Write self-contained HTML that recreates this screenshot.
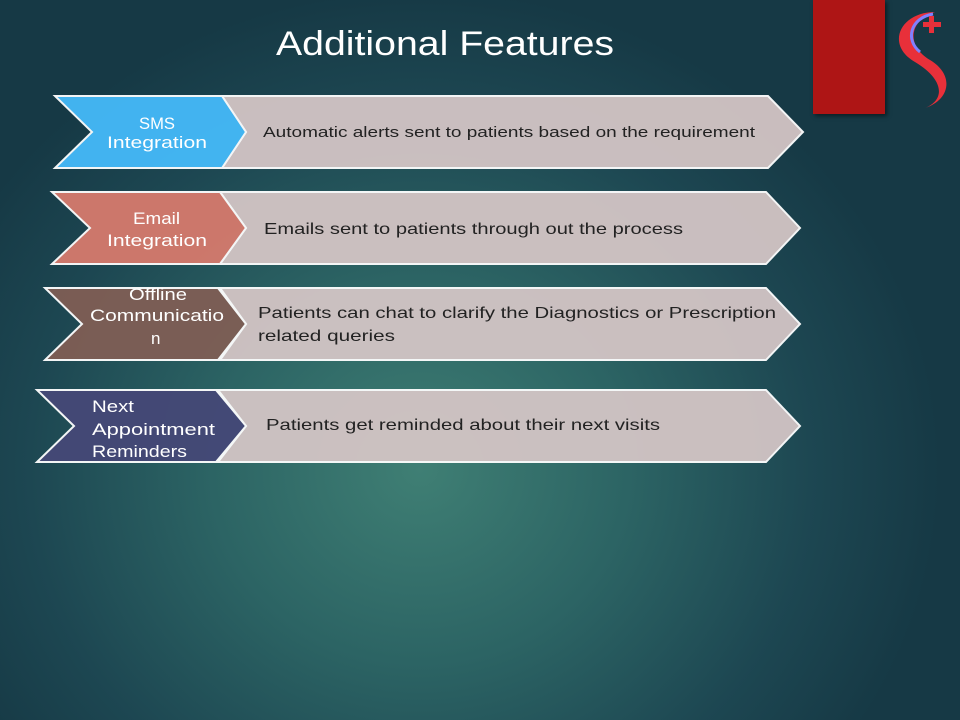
<!DOCTYPE html>
<html><head><style>
body{margin:0;width:960px;height:720px;overflow:hidden;font-family:"Liberation Sans",sans-serif;}
.bg{position:absolute;inset:0;background:radial-gradient(ellipse 520px 480px at 420px 470px,#3f7f74 0%,#2c6464 40%,#1d4752 75%,#163945 100%);}
</style></head><body>
<div class="bg"></div>
<div style="position:absolute;left:813px;top:0;width:72px;height:114px;background:#ae1515;box-shadow:2px 2px 4px rgba(0,0,0,.5)"></div>
<svg width="960" height="720" style="position:absolute;left:0;top:0">
<g font-family="Liberation Sans,sans-serif">
<text x="276" y="55" fill="#fff" font-size="34" textLength="338" lengthAdjust="spacingAndGlyphs">Additional Features</text>
<path d="M935 12 C900 12 885 45 915 62 C945 80 945 100 925 108 C950 100 955 75 930 60 C905 45 910 20 935 12Z" fill="#e8303a"/>
<path d="M933 14 C910 18 905 40 920 52" fill="none" stroke="#8080ff" stroke-width="3"/>
<rect x="923" y="22" width="18" height="5" fill="#e8303a"/><rect x="929" y="16" width="5" height="17" fill="#e8303a"/>
<g stroke="#fff" stroke-width="2" opacity="0.95">
<polygon points="222,96 768,96 803,132 768,168 222,168 246,132" fill="#d3c5c5"/>
<polygon points="55,96 222,96 246,132 222,168 55,168 92,132" fill="#45baf9"/>
<polygon points="220,192 766,192 800,228 766,264 220,264 246,228" fill="#d3c5c5"/>
<polygon points="52,192 220,192 246,228 220,264 52,264 90,228" fill="#d67a6d"/>
<polygon points="220,288 766,288 800,324 766,360 220,360 246,324" fill="#d3c5c5"/>
<polygon points="45,288 218,288 246,324 218,360 45,360 82,324" fill="#7f5e55"/>
<polygon points="218,390 766,390 800,426 766,462 218,462 246,426" fill="#d3c5c5"/>
<polygon points="37,390 216,390 246,426 216,462 37,462 74,426" fill="#454877"/>
</g>
<g fill="#fff" font-size="17">
<text x="139" y="129" textLength="36" lengthAdjust="spacingAndGlyphs">SMS</text><text x="107" y="148" textLength="100" lengthAdjust="spacingAndGlyphs">Integration</text>
<text x="133" y="224" textLength="47" lengthAdjust="spacingAndGlyphs">Email</text><text x="107" y="246" textLength="100" lengthAdjust="spacingAndGlyphs">Integration</text>
<text x="129" y="300" textLength="58" lengthAdjust="spacingAndGlyphs">Offline</text><text x="90" y="321" textLength="134" lengthAdjust="spacingAndGlyphs">Communicatio</text><text x="151" y="344">n</text>
<text x="92" y="412" textLength="42" lengthAdjust="spacingAndGlyphs">Next</text><text x="92" y="435" textLength="123" lengthAdjust="spacingAndGlyphs">Appointment</text><text x="92" y="457" textLength="95" lengthAdjust="spacingAndGlyphs">Reminders</text>
</g>
<g fill="#222" font-size="16">
<text x="263" y="137" font-size="15" textLength="492" lengthAdjust="spacingAndGlyphs">Automatic alerts sent to patients based on the requirement</text>
<text x="264" y="234" textLength="419" lengthAdjust="spacingAndGlyphs">Emails sent to patients through out the process</text>
<text x="258" y="318" textLength="518" lengthAdjust="spacingAndGlyphs">Patients can chat to clarify the Diagnostics or Prescription</text>
<text x="258" y="341" textLength="137" lengthAdjust="spacingAndGlyphs">related queries</text>
<text x="266" y="430" textLength="394" lengthAdjust="spacingAndGlyphs">Patients get reminded about their next visits</text>
</g>
</g>
</svg>
</body></html>
